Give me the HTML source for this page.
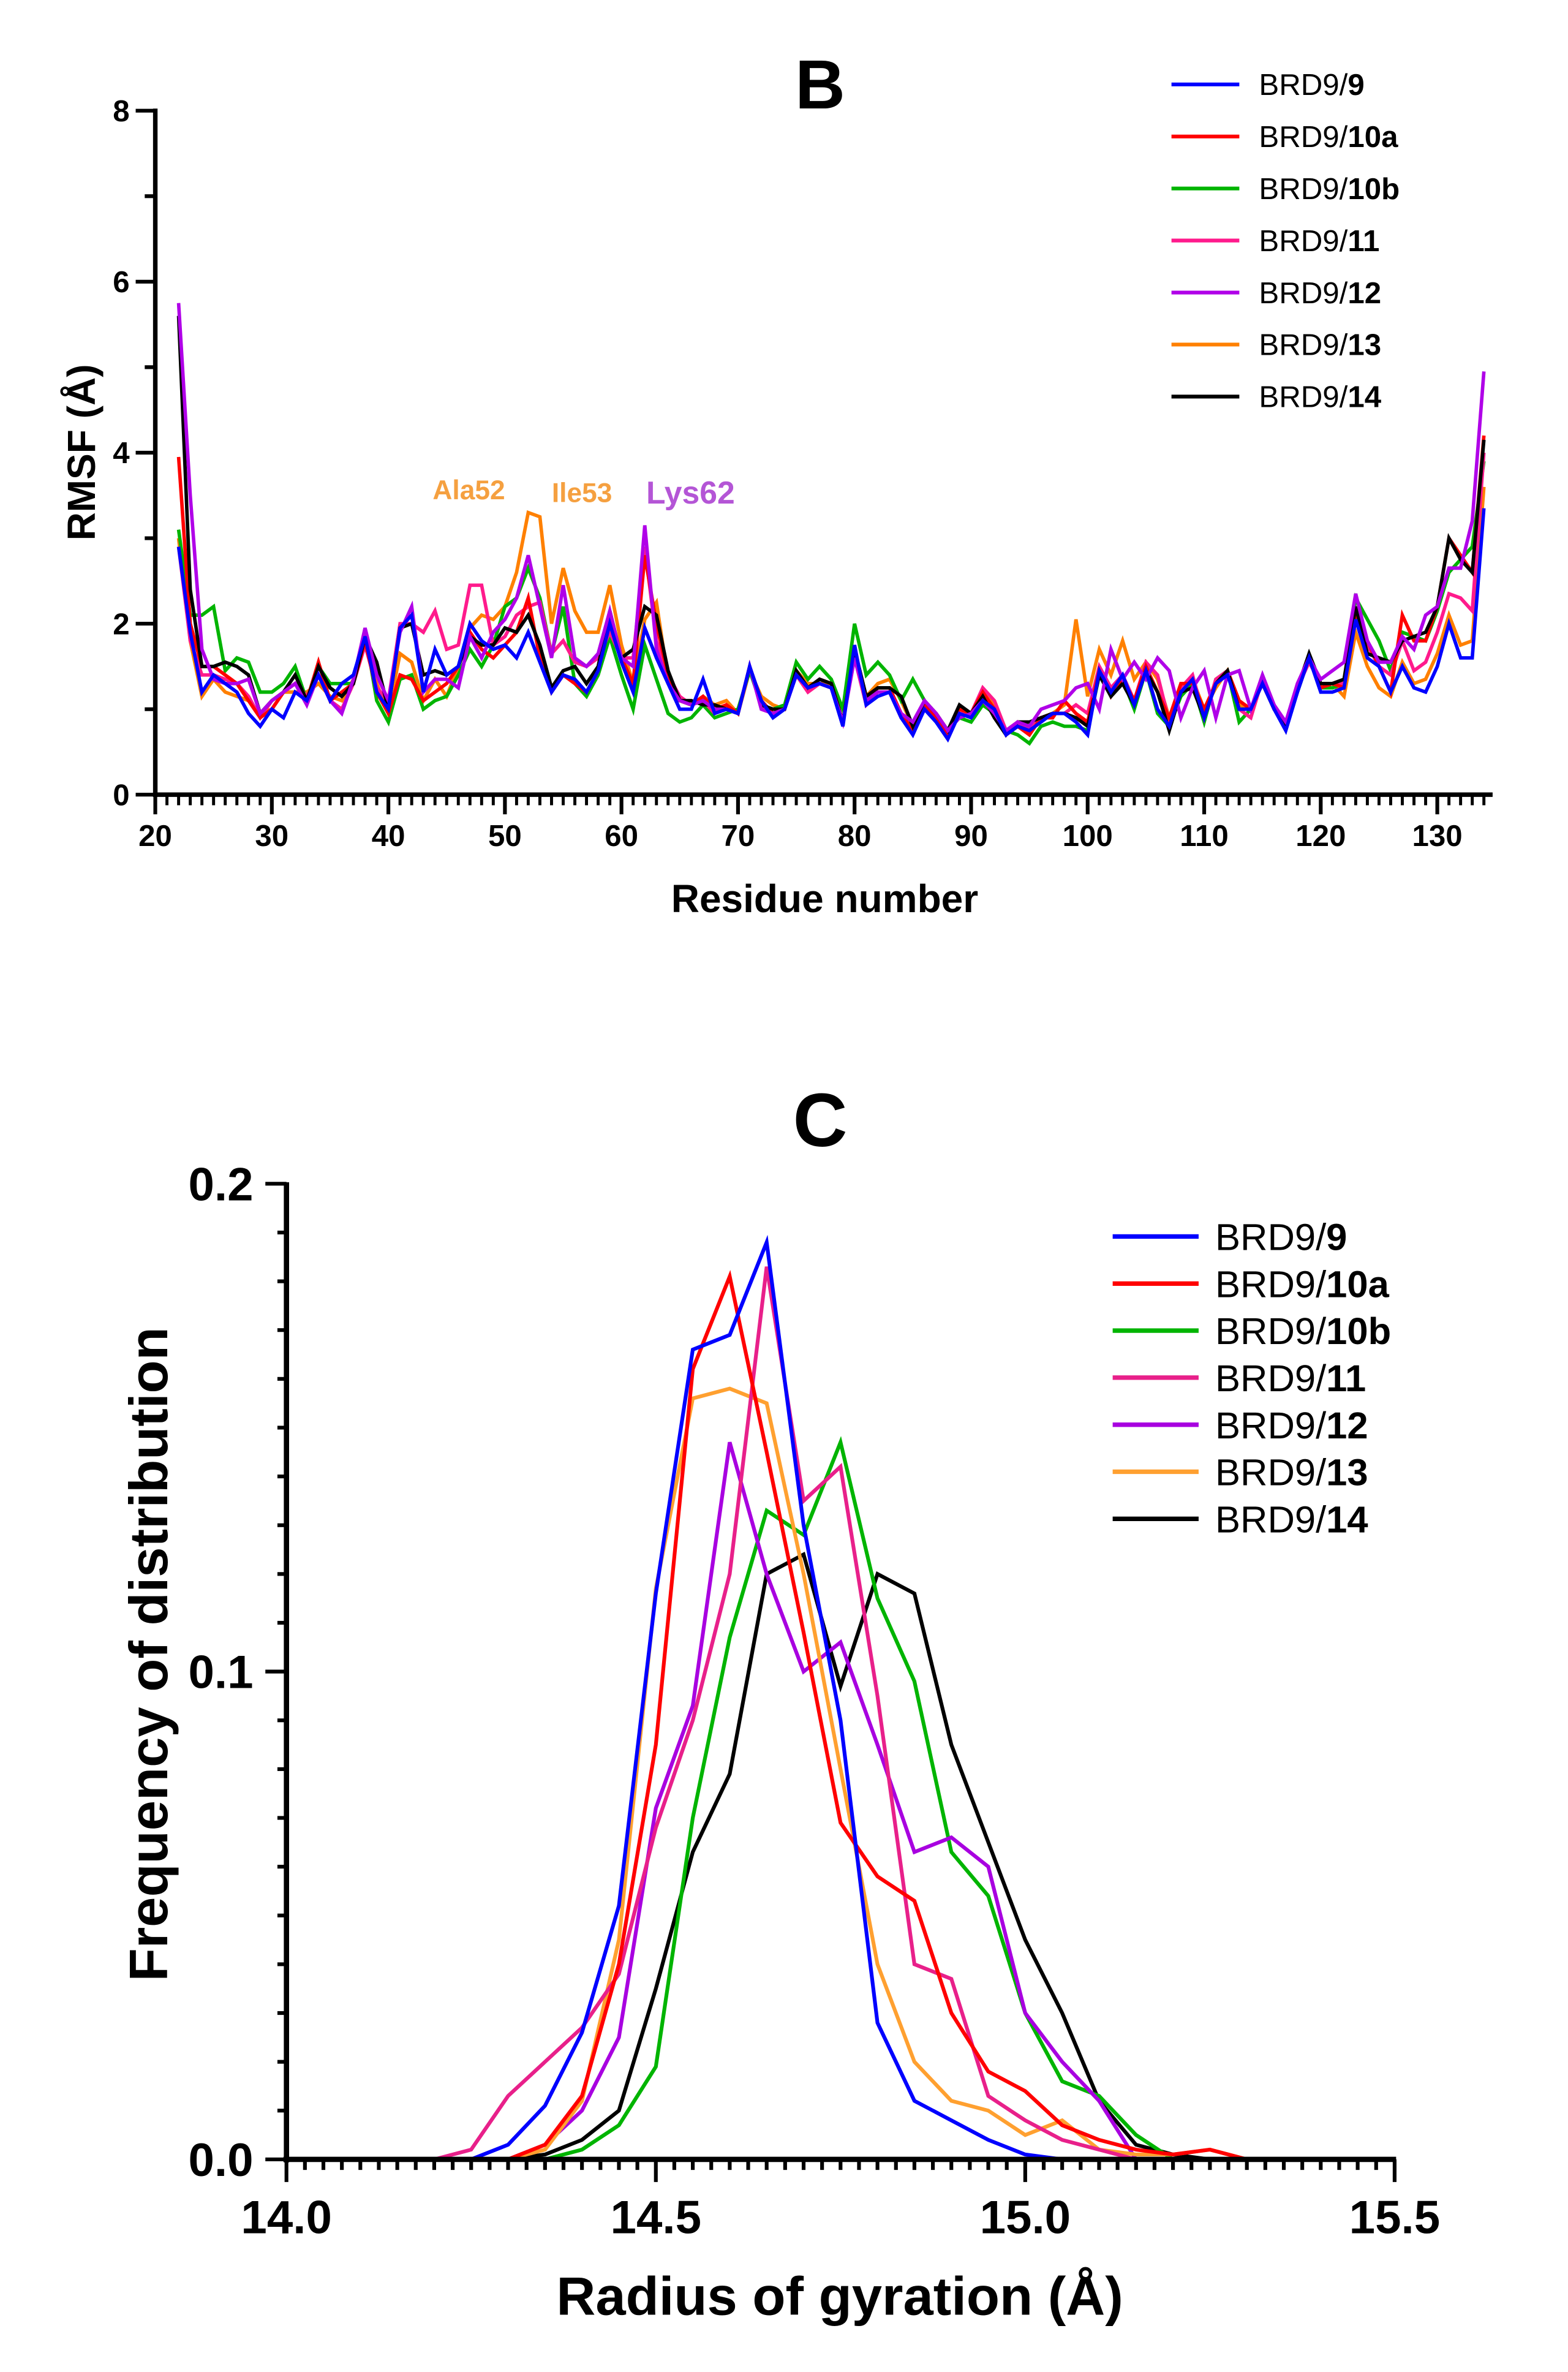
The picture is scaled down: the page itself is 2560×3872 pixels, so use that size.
<!DOCTYPE html>
<html><head><meta charset="utf-8"><style>
html,body{margin:0;padding:0;background:#fff}
svg{display:block}
text{font-family:"Liberation Sans",Arial,sans-serif;font-weight:bold}
</style></head><body>
<svg id="fig" width="2560" height="3872" viewBox="0 0 1040 1573" xmlns="http://www.w3.org/2000/svg">
<g id="chartB"></g>
<g id="chartC"></g>
</svg>
<script>
// ---------- Chart B data: RMSF per residue (22..134) ----------
const residueStart = 22;
const rmsf9 = [2.9,1.9,1.2,1.4,1.3,1.2,0.95,0.8,1.0,0.9,1.2,1.1,1.4,1.1,1.3,1.4,1.85,1.2,1.0,1.95,2.1,1.2,1.7,1.4,1.5,2.0,1.8,1.7,1.75,1.6,1.9,1.55,1.2,1.4,1.35,1.2,1.45,2.0,1.55,1.2,1.95,1.6,1.3,1.0,1.0,1.35,0.95,1.0,0.95,1.5,1.1,0.9,1.0,1.4,1.25,1.3,1.25,0.8,1.75,1.05,1.15,1.2,0.9,0.7,1.0,0.85,0.65,0.95,0.9,1.1,1.0,0.7,0.8,0.75,0.85,0.95,0.95,0.85,0.7,1.45,1.2,1.4,1.05,1.45,1.0,0.8,1.2,1.35,0.9,1.3,1.4,1.0,1.0,1.3,1.0,0.75,1.2,1.6,1.2,1.2,1.25,2.05,1.6,1.5,1.2,1.5,1.25,1.2,1.5,2.0,1.6,1.6,3.35];
const rmsf10a = [3.95,2.0,1.5,1.5,1.4,1.3,1.1,0.9,1.0,1.2,1.3,1.1,1.55,1.1,1.2,1.3,1.8,1.2,0.95,1.4,1.35,1.1,1.2,1.3,1.5,1.9,1.7,1.6,1.75,1.9,2.3,1.6,1.2,1.4,1.3,1.2,1.45,2.1,1.6,1.3,2.8,2.0,1.4,1.1,1.05,1.15,1.0,1.05,0.95,1.5,1.1,0.95,1.0,1.45,1.25,1.35,1.3,0.85,1.7,1.1,1.25,1.25,0.95,0.75,1.05,0.9,0.7,1.0,0.95,1.2,1.0,0.7,0.8,0.7,0.9,0.9,1.1,0.95,0.85,1.45,1.15,1.35,1.1,1.5,1.2,0.9,1.3,1.3,1.0,1.3,1.45,1.1,1.0,1.3,1.0,0.8,1.25,1.6,1.25,1.3,1.25,2.1,1.8,1.5,1.2,2.1,1.8,1.8,2.2,3.0,2.8,2.6,4.2];
const rmsf10b = [3.1,2.1,2.1,2.2,1.45,1.6,1.55,1.2,1.2,1.3,1.5,1.1,1.5,1.3,1.3,1.3,1.9,1.1,0.85,1.35,1.4,1.0,1.1,1.15,1.4,1.7,1.5,1.75,2.2,2.3,2.65,2.3,1.65,2.2,1.3,1.15,1.4,1.85,1.4,1.0,1.75,1.35,0.95,0.85,0.9,1.05,0.9,0.95,1.0,1.45,1.05,1.0,1.05,1.55,1.35,1.5,1.35,1.0,2.0,1.4,1.55,1.4,1.1,1.35,1.1,0.85,0.75,0.9,0.85,1.05,0.95,0.75,0.7,0.6,0.8,0.85,0.8,0.8,0.75,1.4,1.25,1.35,1.0,1.45,0.95,0.8,1.15,1.3,0.85,1.35,1.45,0.85,1.0,1.3,1.0,0.8,1.2,1.6,1.25,1.25,1.3,2.3,2.05,1.8,1.45,1.9,1.85,1.8,2.15,2.6,2.75,2.9,3.9];
const rmsf11 = [2.9,1.8,1.4,1.4,1.35,1.3,1.15,0.9,1.1,1.2,1.3,1.15,1.4,1.1,1.0,1.3,1.75,1.25,1.1,2.0,2.0,1.9,2.15,1.7,1.75,2.45,2.45,1.75,1.85,2.1,2.2,2.25,1.65,1.8,1.55,1.5,1.6,1.9,1.6,1.6,2.9,1.8,1.4,1.15,1.05,1.1,0.95,1.05,0.95,1.5,1.05,0.95,1.0,1.4,1.2,1.3,1.25,0.85,1.6,1.05,1.2,1.2,0.9,0.75,1.05,0.95,0.75,0.95,0.95,1.25,1.1,0.75,0.85,0.75,0.9,0.95,0.95,1.05,0.95,1.5,1.25,1.4,1.1,1.55,1.4,0.85,1.25,1.4,0.9,1.35,1.45,1.0,0.9,1.35,1.05,0.8,1.25,1.55,1.3,1.3,1.3,2.05,1.75,1.5,1.4,1.8,1.45,1.55,1.9,2.35,2.3,2.15,4.0];
const rmsf12 = [5.75,3.5,1.7,1.35,1.3,1.3,1.35,0.95,1.1,1.2,1.3,1.05,1.4,1.1,0.95,1.35,1.95,1.4,1.1,1.9,2.2,1.2,1.35,1.35,1.25,1.85,1.6,1.9,2.05,2.3,2.8,2.2,1.6,2.45,1.6,1.5,1.65,2.15,1.6,1.5,3.15,1.7,1.3,1.1,1.05,1.1,1.0,1.0,0.95,1.5,1.0,0.95,1.0,1.4,1.25,1.3,1.25,0.85,1.6,1.1,1.2,1.2,0.95,0.85,1.1,0.95,0.75,0.9,0.95,1.1,0.95,0.75,0.85,0.8,1.0,1.05,1.1,1.25,1.3,1.0,1.7,1.35,1.55,1.35,1.6,1.45,0.9,1.25,1.45,0.9,1.4,1.45,1.0,1.4,1.05,0.85,1.3,1.6,1.35,1.45,1.55,2.35,1.8,1.55,1.55,1.85,1.7,2.1,2.2,2.65,2.65,3.2,4.95];
const rmsf13 = [3.0,1.8,1.15,1.35,1.2,1.15,1.1,0.95,1.0,1.2,1.2,1.2,1.3,1.15,1.1,1.35,1.8,1.3,0.95,1.65,1.55,1.1,1.35,1.15,1.5,1.95,2.1,2.05,2.2,2.6,3.3,3.25,2.0,2.65,2.15,1.9,1.9,2.45,1.75,1.3,2.05,2.25,1.35,1.1,1.05,1.15,1.05,1.1,0.95,1.45,1.15,1.05,1.0,1.45,1.3,1.3,1.3,0.85,1.7,1.15,1.3,1.35,1.1,0.8,1.05,0.95,0.75,1.0,0.95,1.2,1.05,0.75,0.85,0.8,0.9,0.95,1.05,2.05,1.15,1.7,1.4,1.8,1.35,1.55,1.35,0.9,1.2,1.35,1.0,1.25,1.45,1.05,1.0,1.35,1.0,0.8,1.25,1.6,1.3,1.3,1.15,1.9,1.5,1.25,1.15,1.55,1.3,1.35,1.65,2.1,1.75,1.8,3.6];
const rmsf14 = [5.6,2.4,1.5,1.5,1.55,1.5,1.4,0.95,1.1,1.2,1.4,1.1,1.5,1.25,1.15,1.3,1.85,1.55,1.0,1.95,2.0,1.4,1.45,1.4,1.5,1.85,1.75,1.75,1.95,1.9,2.1,1.75,1.25,1.45,1.5,1.3,1.5,2.15,1.6,1.7,2.2,2.1,1.45,1.1,1.1,1.05,1.05,1.0,0.95,1.5,1.05,1.0,1.0,1.45,1.25,1.35,1.3,0.85,1.7,1.15,1.25,1.25,1.15,0.8,1.1,0.95,0.75,1.05,0.95,1.15,0.9,0.7,0.85,0.85,0.9,0.95,0.95,0.9,0.8,1.4,1.15,1.3,1.05,1.45,1.2,0.75,1.2,1.25,0.9,1.3,1.45,1.0,1.0,1.35,1.0,0.8,1.25,1.65,1.3,1.3,1.35,2.2,1.65,1.6,1.55,1.8,1.85,1.9,2.2,3.0,2.75,2.6,4.15];
const xTicksB = [20,30,40,50,60,70,80,90,100,110,120,130];
const yTicksB = [0,2,4,6,8];
const namesB = ["9","10a","10b","11","12","13","14"];

// ---------- Chart C data: radius of gyration distribution ----------
const rgBins = [14.20,14.25,14.30,14.35,14.40,14.45,14.50,14.55,14.60,14.65,14.70,14.75,14.80,14.85,14.90,14.95,15.00,15.05,15.10,15.15,15.20,15.25,15.30,15.35];
const freq9   = [0,0,0.003,0.011,0.026,0.052,0.116,0.166,0.169,0.188,0.13,0.09,0.028,0.012,0.008,0.004,0.001,0,0,0,0,0,0,0];
const freq10a = [0,0,0,0.003,0.013,0.04,0.085,0.162,0.181,0.145,0.108,0.069,0.058,0.053,0.03,0.018,0.014,0.007,0.004,0.002,0.001,0.002,0,0];
const freq10b = [0,0,0,0,0.002,0.007,0.019,0.07,0.107,0.133,0.128,0.147,0.115,0.098,0.063,0.054,0.03,0.016,0.013,0.005,0,0,0,0];
const freq11  = [0,0.002,0.013,0.02,0.027,0.038,0.068,0.09,0.12,0.183,0.135,0.142,0.095,0.04,0.037,0.013,0.008,0.004,0.002,0,0,0,0,0];
const freq12  = [0,0,0,0.003,0.01,0.025,0.072,0.093,0.147,0.12,0.1,0.106,0.085,0.063,0.066,0.06,0.03,0.02,0.012,0,0,0,0,0];
const freq13  = [0,0,0,0.002,0.012,0.045,0.117,0.156,0.158,0.155,0.12,0.08,0.04,0.02,0.012,0.01,0.005,0.008,0.002,0.001,0.001,0.002,0,0];
const freq14  = [0,0,0,0.001,0.004,0.01,0.035,0.063,0.079,0.12,0.124,0.097,0.12,0.116,0.085,0.065,0.045,0.03,0.012,0.003,0.001,0,0,0];
const xTicksC = [14.0,14.5,15.0,15.5];
const yTicksC = [0.0,0.1,0.2];

const NS="http://www.w3.org/2000/svg";
function mk(parent,tag,attrs,txt){const e=document.createElementNS(NS,tag);for(const k in attrs)e.setAttribute(k,attrs[k]);if(txt!==undefined)e.textContent=txt;parent.appendChild(e);return e;}

// ===== Chart B =====
const gB=document.getElementById('chartB');
const xB=r=>103+(r-20)*7.73;
const yB=v=>527-v*56.7;
const colB=["#0000ff","#ff0000","#00b400","#ff1a8c","#b000e8","#ff8000","#000000"];
const seriesB=[rmsf9,rmsf10a,rmsf10b,rmsf11,rmsf12,rmsf13,rmsf14];
[5,2,3,1,6,4,0].forEach(i=>{
  const pts=seriesB[i].map((v,j)=>xB(residueStart+j).toFixed(2)+","+yB(v).toFixed(2)).join(" ");
  const p=mk(gB,'polyline',{points:pts,fill:'none',stroke:colB[i],'stroke-width':2.3});
  
  
});
let ax=mk(gB,'line',{x1:103,y1:72,x2:103,y2:528.5,stroke:'#000','stroke-width':3});


ax=mk(gB,'line',{x1:101.5,y1:527,x2:990,y2:527,stroke:'#000','stroke-width':3});


for(let r=20;r<=134;r++){const major=r%10===0;mk(gB,'line',{x1:xB(r),y1:527,x2:xB(r),y2:major?540:534,stroke:'#000','stroke-width':major?2.5:2});}
xTicksB.forEach(tk=>{const e=mk(gB,'text',{x:xB(tk),y:561,'font-size':20,'text-anchor':'middle'},String(tk));

});
for(let v=0;v<=8;v++){const major=v%2===0;mk(gB,'line',{x1:103,y1:yB(v),x2:major?90:96,y2:yB(v),stroke:'#000','stroke-width':2.5});}
yTicksB.forEach(tk=>{const e=mk(gB,'text',{x:86,y:yB(tk)+7,'font-size':20,'text-anchor':'end'},String(tk));

});
let lb=mk(gB,'text',{x:547,y:605,'font-size':26,'text-anchor':'middle'},'Residue number');


lb=mk(gB,'text',{x:0,y:0,'font-size':26,'text-anchor':'middle',transform:'translate(63,300) rotate(-90)'},'RMSF (Å)');


lb=mk(gB,'text',{x:544,y:72,'font-size':46,'text-anchor':'middle'},'B');


lb=mk(gB,'text',{x:311,y:331,'font-size':18,'text-anchor':'middle',fill:'#f5a040'},'Ala52');


lb=mk(gB,'text',{x:386,y:333,'font-size':18,'text-anchor':'middle',fill:'#f5a040'},'Ile53');


lb=mk(gB,'text',{x:458,y:334,'font-size':21,'text-anchor':'middle',fill:'#b455d6'},'Lys62');


namesB.forEach((n,i)=>{
  const y=56+i*34.5;
  const g=mk(gB,'g',{});
  
  
  mk(g,'line',{x1:777,y1:y,x2:822,y2:y,stroke:colB[i],'stroke-width':2.5});
  const tx=mk(g,'text',{x:835,y:y+7,'font-size':20});
  const a=document.createElementNS(NS,'tspan');a.setAttribute('font-weight','normal');a.textContent='BRD9/';tx.appendChild(a);
  const b=document.createElementNS(NS,'tspan');b.textContent=n;tx.appendChild(b);
});

// ===== Chart C =====
const gC=document.getElementById('chartC');
const xC=v=>190+(v-14.0)*490;
const yC=v=>1432-v*3235;
const colC=["#0000ff","#ff0000","#00b400","#e8208a","#a800e0","#ffa030","#000000"];
const seriesC=[freq9,freq10a,freq10b,freq11,freq12,freq13,freq14];
[6,2,4,5,3,1,0].forEach(i=>{
  const pts=seriesC[i].map((v,j)=>xC(rgBins[j]).toFixed(2)+","+yC(v).toFixed(2)).join(" ");
  const p=mk(gC,'polyline',{points:pts,fill:'none',stroke:colC[i],'stroke-width':2.5});
  
  
});
ax=mk(gC,'line',{x1:190,y1:784,x2:190,y2:1434,stroke:'#000','stroke-width':3.5});


ax=mk(gC,'line',{x1:188,y1:1432,x2:926,y2:1432,stroke:'#000','stroke-width':3.5});


for(let k=0;k<=60;k++){const v=14+k*0.025;const major=k%20===0;mk(gC,'line',{x1:xC(v),y1:1432,x2:xC(v),y2:major?1447:1439,stroke:'#000','stroke-width':2.5});}
for(let k=0;k<=20;k++){const v=k*0.01;const major=k%10===0;mk(gC,'line',{x1:190,y1:yC(v),x2:major?176:184,y2:yC(v),stroke:'#000','stroke-width':2.5});}
xTicksC.forEach(v=>{const e=mk(gC,'text',{x:xC(v),y:1481,'font-size':31,'text-anchor':'middle'},v.toFixed(1));

});
yTicksC.forEach(v=>{const e=mk(gC,'text',{x:168,y:yC(v)+11,'font-size':31,'text-anchor':'end'},v.toFixed(1));

});
lb=mk(gC,'text',{x:557,y:1535,'font-size':36,'text-anchor':'middle'},'Radius of gyration  (Å)');


lb=mk(gC,'text',{x:0,y:0,'font-size':36,'text-anchor':'middle',transform:'translate(111,1097) rotate(-90)'},'Frequency of distribution');


lb=mk(gC,'text',{x:544,y:760,'font-size':50,'text-anchor':'middle'},'C');


namesB.forEach((n,i)=>{
  const y=820+i*31.2;
  const g=mk(gC,'g',{});
  
  
  mk(g,'line',{x1:738,y1:y,x2:795,y2:y,stroke:colC[i],'stroke-width':3});
  const tx=mk(g,'text',{x:806,y:y+9,'font-size':25});
  const a=document.createElementNS(NS,'tspan');a.setAttribute('font-weight','normal');a.textContent='BRD9/';tx.appendChild(a);
  const b=document.createElementNS(NS,'tspan');b.textContent=n;tx.appendChild(b);
});
</script>
</body></html>
